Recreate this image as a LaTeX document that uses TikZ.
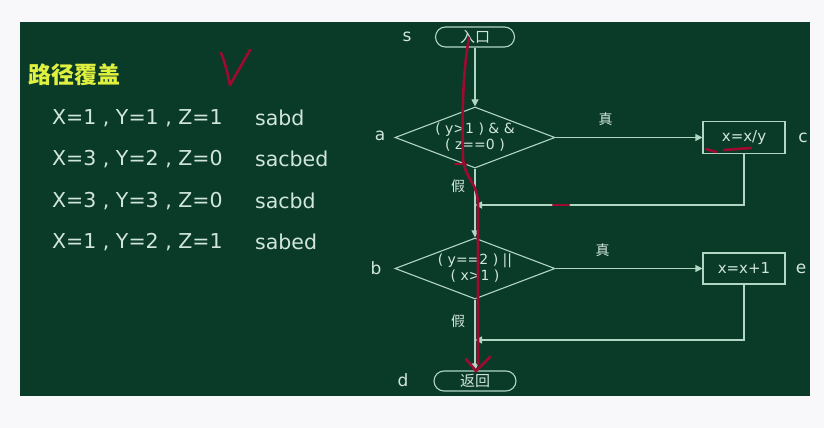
\documentclass[tikz,border=0pt]{standalone}
\usepackage{fontspec}
\setmainfont{DejaVu Sans}
\newfontfamily\cjk{Noto Sans CJK SC}
\usetikzlibrary{shapes.geometric,arrows.meta}

\definecolor{paper}{RGB}{248,248,250}
\definecolor{board}{RGB}{10,58,40}
\definecolor{chalk}{RGB}{178,214,196}
\definecolor{chalktext}{RGB}{208,230,218}
\definecolor{titlecol}{RGB}{224,240,62}
\definecolor{pen}{RGB}{158,10,48}

\tikzset{
  flow/.style={draw=chalk, line width=1.1pt, -{Triangle[length=7pt,width=7pt]}},
  term/.style={draw=chalk, line width=1.1pt, rounded corners=10pt, minimum height=20pt,
    inner sep=0pt, text=chalktext, font=\cjk\fontsize{15}{15}\selectfont},
  cond/.style={diamond, draw=chalk, line width=1.1pt, aspect=2.6, inner sep=0pt,
    minimum width=160pt, minimum height=61pt, align=center, text=chalktext,
    font=\fontsize{14}{16}\selectfont},
  proc/.style={draw=chalk, line width=1.1pt, minimum width=82pt, minimum height=32pt,
    inner sep=0pt, text=chalktext, font=\fontsize{15}{15}\selectfont},
  lbl/.style={text=chalktext, font=\fontsize{17}{17}\selectfont},
  ylbl/.style={text=chalktext, font=\cjk\fontsize{14}{14}\selectfont},
  case/.style={anchor=west, text=chalktext, font=\fontsize{20.5}{20.5}\selectfont, inner sep=0pt},
  redpen/.style={draw=pen, line width=2.6pt, line cap=round, line join=round}
}

\begin{document}
\begin{tikzpicture}[x=1pt,y=-1pt]
  \useasboundingbox (0,0) rectangle (824,428);
  \fill[paper] (0,0) rectangle (824,428);
  \fill[board] (20,22) rectangle (810,396);

  % test cases
  \node[text=titlecol, font=\cjk\bfseries\fontsize{23}{23}\selectfont] (title) at (74,75) {路径覆盖};
  \node[case] (t1) at (52,118) {X=1 , Y=1 , Z=1};
  \node[case] (p1) at (255,118) {sabd};
  \node[case] (t2) at (52,159) {X=3 , Y=2 , Z=0};
  \node[case] (p2) at (255,159) {sacbed};
  \node[case] (t3) at (52,201) {X=3 , Y=3 , Z=0};
  \node[case] (p3) at (255,201) {sacbd};
  \node[case] (t4) at (52,242) {X=1 , Y=2 , Z=1};
  \node[case] (p4) at (255,242) {sabed};

  % flow chart
  \node[term, minimum width=79pt] (s) at (475,37) {入口};
  \node[cond] (a) at (475,137.5) {( y>1 ) \& \&\\( z==0 )};
  \node[proc] (c) at (744,137.5) {x=x/y};
  \node[cond] (b) at (475,268.5) {( y==2 ) ||\\( x>1 )};
  \node[proc, minimum height=31pt] (e) at (744,268.5) {x=x+1};
  \node[term, minimum width=82pt] (d) at (475,381) {返回};
  \coordinate (ja) at (475,205);
  \coordinate (jb) at (475,340);

  \node[lbl] (ls) at (407,37) {s};
  \node[lbl] (la) at (380,136) {a};
  \node[lbl] (lc) at (803,138) {c};
  \node[lbl] (lb) at (376,268) {b};
  \node[lbl] (le) at (801,269) {e};
  \node[lbl] (ld) at (403,380) {d};

  \draw[flow] (s) -- (a);
  \draw[flow] (a) -- node[ylbl, pos=.34, above=8pt] (ta) {真} (c);
  \draw[flow] (c) |- (ja);
  \draw[flow] (a) -- node[ylbl, pos=.26, left=6pt] (fa) {假} (b);
  \draw[flow] (b) -- node[ylbl, pos=.32, above=8pt] (tb) {真} (e);
  \draw[flow] (e) |- (jb);
  \draw[flow] (b) -- node[ylbl, pos=.3, left=6pt] (fb) {假} (d);

  % red marks
  \draw[redpen] (221,53) .. controls (225,62) and (228,75) .. (230,85) -- (250,50);
  \draw[redpen] (469,38) .. controls (463,70) and (462,110) .. (463,158)
    .. controls (464,178) and (478,182) .. (478,205) -- (478,364);
  \draw[redpen] (466,359) -- (476,371) -- (490,357);
  \draw[redpen] (455,164) -- (466,164);
  \draw[redpen] (706,149) -- (716,152);
  \draw[redpen] (724,150) -- (751,148);
  \draw[redpen] (553,205) -- (569,205);
\end{tikzpicture}
\end{document}
